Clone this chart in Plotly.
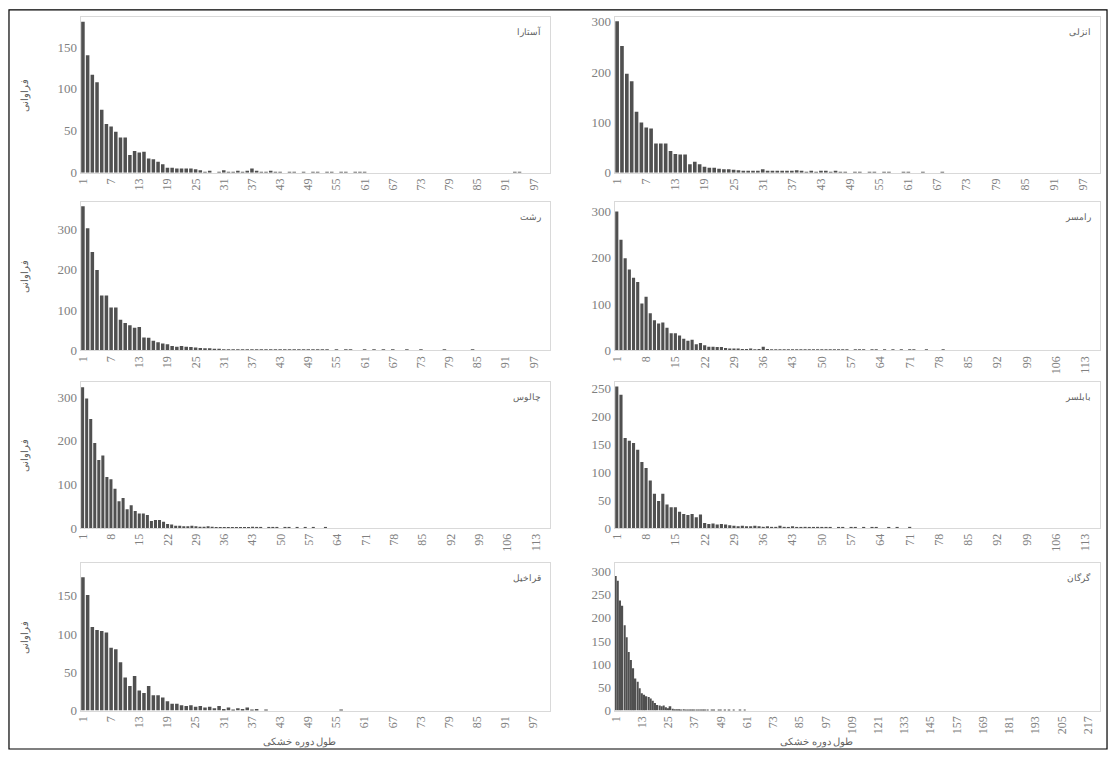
import plotly.graph_objects as go

W, H = 1111, 758

# ---------------- data ----------------
titles = ["آستارا", "انزلی", "رشت", "رامسر", "چالوس", "بابلسر", "قراخیل", "گرگان"]
y_title = "فراوانی"
x_title = "طول دوره خشکی"

astara = [180,140,117,108,75,58,55,49,42,42,21,26,24,25,17,16,13,10,6,6,
          5,5,5,5,4,3,1,2,0,1,3,1,1,2,1,2,5,2,1,1,
          2,1,1,0,1,1,0,1,0,1,1,0,1,1,0,1,1,0,1,1,
          1,0,0,0,0,0,0,0,0,0,0,0,0,0,0,0,0,0,0,0,
          0,0,0,0,0,0,0,0,0,0,0,0,1,1,0,0,0,0,0,0]
anzali = [301,252,197,182,121,100,90,88,58,58,58,43,37,36,36,17,22,17,12,10,
          10,8,7,7,6,5,4,4,3,3,7,4,3,2,4,3,2,5,2,1,
          2,1,2,4,1,2,1,1,0,1,1,0,1,1,0,1,1,0,0,1,
          1,0,0,1,0,0,0,1,0,0,0,0,0,0,0,0,0,0,0,0,
          0,0,0,0,0,0,0,0,0,0,0,0,0,0,0,0,0,0,0,0]
rasht = [357,303,244,199,136,136,106,106,76,68,62,56,58,32,31,24,20,17,15,11,
         9,11,9,8,7,6,5,5,4,4,3,3,2,3,2,2,1,2,3,1,
         2,1,3,1,2,2,1,1,1,1,1,1,1,0,1,0,1,1,0,0,
         1,0,1,0,1,0,1,0,0,1,0,0,1,0,0,0,0,1,0,0,
         0,0,0,1,0,0,0,0,0,0,0,0,0,0,0,0,0,0,0,0]
ramsar = [300,239,199,175,157,148,101,116,80,65,58,60,49,37,37,32,25,21,23,13,
          16,11,8,8,7,7,5,4,4,4,3,3,4,2,3,8,3,2,2,1,
          2,1,2,1,1,2,1,1,1,2,1,1,1,1,2,1,0,1,1,1,
          0,1,1,0,1,0,1,0,1,0,1,1,0,0,1,0,0,0,1,0,
          0,0,0,0,0,0,0,0,0,0,0,0,0,0,0,0,0,0,0,0,
          0,0,0,0,0,0,0,0,0,0,0,0,0,0,0,0]
chalus = [323,297,250,195,156,166,117,112,90,61,69,43,52,39,33,33,30,16,18,18,
          14,9,8,5,5,4,4,5,4,3,3,4,3,2,2,2,1,2,1,2,
          1,1,3,1,1,0,1,1,1,0,1,1,0,1,0,1,0,1,0,0,
          1,0,0,0,0,0,0,0,0,0,0,0,0,0,0,0,0,0,0,0,
          0,0,0,0,0,0,0,0,0,0,0,0,0,0,0,0,0,0,0,0,
          0,0,0,0,0,0,0,0,0,0,0,0,0,0,0,0]
babolsar = [253,238,161,156,152,140,118,107,85,61,48,61,42,37,37,29,25,23,25,19,
            24,9,7,8,6,7,6,5,4,3,4,3,3,4,3,2,3,2,2,4,
            2,1,3,1,1,2,1,1,2,1,1,1,0,1,1,0,1,1,0,1,
            0,1,1,0,0,1,0,1,0,0,2,0,0,0,0,0,0,0,0,0,
            0,0,0,0,0,0,0,0,0,0,0,0,0,0,0,0,0,0,0,0,
            0,0,0,0,0,0,0,0,0,0,0,0,0,0,0,0]
gharakhil = [174,151,109,105,104,102,82,80,63,43,32,45,26,23,32,20,20,17,12,9,
             9,7,6,7,5,6,4,5,3,6,2,4,1,3,2,4,1,2,0,1,
             0,0,0,0,0,0,0,0,0,0,0,0,0,0,0,1,0,0,0,0,
             0,0,0,0,0,0,0,0,0,0,0,0,0,0,0,0,0,0,0,0,
             0,0,0,0,0,0,0,0,0,0,0,0,0,0,0,0,0,0,0,0]
gorgan = [290,280,237,226,184,158,126,109,91,69,62,48,37,34,31,29,26,21,16,12,
          11,9,11,7,5,9,4,3,3,3,2,3,2,2,2,1,2,1,1,1,
          1,1,1,0,1,1,0,1,1,0,1,0,1,0,1,0,0,1,0,1] + [0] * 162

series = [astara, anzali, rasht, ramsar, chalus, babolsar, gharakhil, gorgan]

tick_step = [6, 6, 6, 7, 7, 7, 6, 12]
y_max = [186, 310, 367, 320, 335, 261, 192, 317]
y_dtick = [50, 100, 100, 100, 100, 50, 50, 50]

# ---------------- layout geometry (pixels) ----------------
col_x = [(75, 547), (612, 1100)]
row_y = [(15, 173), (203, 353), (385, 533), (569, 718)]

def px_x(v):
    return v / W

def px_y(v):
    return 1 - v / H

fig = go.Figure()
font_fam = "Liberation Serif"
gray = "#808080"
annotations = []

for i, (vals, title) in enumerate(zip(series, titles)):
    r, c = divmod(i, 2)
    n = len(vals)
    xs = list(range(1, n + 1))
    ax = "" if i == 0 else str(i + 1)
    fig.add_trace(go.Bar(
        x=xs, y=vals, xaxis="x" + ax, yaxis="y" + ax,
        marker=dict(color="#505050", line=dict(width=0)),
        showlegend=False,
    ))
    x0, x1 = col_x[c]
    y0, y1 = row_y[r]
    fig.layout["xaxis" + ax] = dict(
        domain=[px_x(x0), px_x(x1)], anchor="y" + ax,
        range=[0.5, n + 0.5],
        tickmode="array", tickvals=xs[::tick_step[i]],
        ticktext=[str(v) for v in xs[::tick_step[i]]],
        tickangle=-90, tickfont=dict(family=font_fam, size=12, color=gray),
        showgrid=False, zeroline=False,
        showline=True, linecolor="#d9d9d9", linewidth=1, mirror=True,
        ticks="", fixedrange=True,
    )
    fig.layout["yaxis" + ax] = dict(
        domain=[px_y(y1), px_y(y0)], anchor="x" + ax,
        range=[0, y_max[i]], dtick=y_dtick[i], tick0=0,
        tickfont=dict(family=font_fam, size=13, color=gray),
        showgrid=False, zeroline=False,
        showline=True, linecolor="#d9d9d9", linewidth=1, mirror=True,
        ticks="", ticklen=0, fixedrange=True,
    )
    annotations.append(dict(
        text=title, xref="x" + ax + " domain", yref="y" + ax + " domain",
        x=0.985, y=0.96, xanchor="right", yanchor="top", showarrow=False,
        font=dict(family="Noto Sans", size=9, color="#606060"),
    ))
    if c == 0:
        annotations.append(dict(
            text=y_title, xref="paper", yref="paper",
            x=px_x(18), y=px_y((y0 + y1) / 2), xanchor="center", yanchor="middle",
            textangle=-90, showarrow=False,
            font=dict(family="Noto Sans", size=10, color="#606060"),
        ))
    if r == 3:
        annotations.append(dict(
            text=x_title, xref="paper", yref="paper",
            x=px_x(295 if c == 0 else 815),
            y=px_y(749), xanchor="center", yanchor="middle", showarrow=False,
            font=dict(family="Noto Sans", size=10, color="#606060"),
        ))

fig.update_layout(
    width=W, height=H,
    margin=dict(l=0, r=0, t=0, b=0),
    paper_bgcolor="white", plot_bgcolor="white",
    bargap=0.25,
    annotations=annotations,
    shapes=[dict(type="rect", xref="paper", yref="paper",
                 x0=px_x(3), x1=px_x(1107), y0=px_y(757), y1=px_y(8),
                 line=dict(color="black", width=1.2))],
)

fig.write_html(
    "out.html",
    config={"displayModeBar": False},
    post_script="document.body.style.margin='0';document.body.style.overflow='hidden';",
)
